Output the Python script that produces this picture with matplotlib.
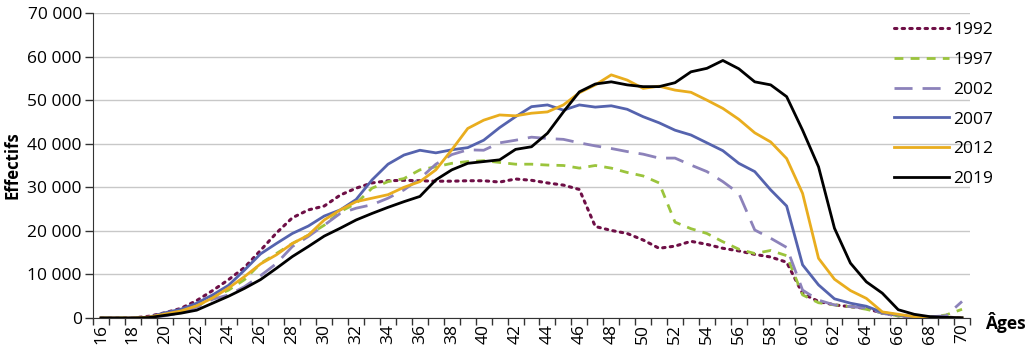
import numpy as np
import matplotlib
matplotlib.use('Agg')
import matplotlib.pyplot as plt
from matplotlib.ticker import FuncFormatter, FixedLocator

plt.rcParams['font.family'] = ['Open Sans', 'DejaVu Sans']
plt.rcParams['font.size'] = 12.5

# effectifs par âge (16 à 70 ans) pour chaque année
ages = list(range(16, 71))

eff_1992 = [0, 0, 0, 400, 1200, 2200, 4000, 6300, 8800, 11600,
            15500, 19500, 23000, 24800, 25700, 28200, 29800, 31000, 31500, 31600,
            31500, 31400, 31400, 31500, 31500, 31200, 31900, 31600, 31000, 30500,
            29500, 21000, 20100, 19400, 17900, 16000, 16500, 17600, 16900, 16000,
            15400, 14600, 14000, 12800, 5600, 3800, 3000, 2600, 2200, 1100,
            500, 300, 200, 200, 0]

eff_1997 = [0, 0, 0, 100, 600, 1300, 2600, 4800, 6400, 8800,
            12500, 14800, 17100, 19000, 21300, 24400, 26300, 29800, 31300, 32000,
            34000, 34700, 35500, 35900, 36100, 35700, 35300, 35300, 35100, 35000,
            34400, 35000, 34400, 33400, 32600, 31000, 22000, 20500, 19400, 17500,
            15800, 14800, 15500, 14300, 5300, 3500, 3000, 2600, 2000, 1100,
            500, 300, 200, 700, 2000]

eff_2002 = [0, 0, 0, 100, 500, 1200, 2500, 4300, 5300, 7200,
            9700, 12500, 16400, 18700, 21300, 24000, 25200, 26000, 27500, 29400,
            32000, 35300, 37500, 38600, 38500, 40200, 40800, 41500, 41200, 41000,
            40200, 39500, 38900, 38200, 37600, 36700, 36700, 35100, 33600, 31300,
            28600, 20200, 18300, 16200, 6400, 4100, 3000, 2600, 2300, 1100,
            400, 300, 300, 500, 3800]

eff_2007 = [0, 0, 0, 200, 1200, 2000, 3400, 5300, 7500, 11000,
            14700, 17100, 19400, 21100, 23400, 24800, 27200, 31700, 35300, 37400,
            38500, 37900, 38600, 39100, 40800, 43700, 46200, 48500, 48900, 47700,
            48900, 48400, 48700, 47900, 46200, 44800, 43100, 42000, 40200, 38400,
            35500, 33600, 29400, 25700, 12200, 7600, 4400, 3400, 2700, 1300,
            700, 300, 100, 100, 0]

eff_2012 = [0, 0, 0, 200, 900, 1600, 2800, 4600, 6900, 9500,
            12400, 14500, 17100, 19000, 22500, 24800, 26700, 27500, 28300, 30000,
            31300, 34000, 38600, 43500, 45400, 46600, 46400, 47000, 47300, 48900,
            51700, 53500, 55800, 54600, 52700, 53200, 52300, 51800, 50000, 48100,
            45600, 42500, 40400, 36600, 28600, 13700, 8900, 6300, 4500, 1400,
            850, 300, 0, 0, 0]

eff_2019 = [0, 0, 0, 100, 600, 1100, 1800, 3400, 5000, 6800,
            8800, 11400, 14100, 16400, 18800, 20600, 22500, 24000, 25400, 26700,
            27900, 31700, 34000, 35500, 35900, 36300, 38700, 39300, 42400, 47300,
            51900, 53700, 54200, 53500, 53100, 53100, 54000, 56500, 57300, 59100,
            57200, 54200, 53500, 50800, 43100, 34700, 20600, 12600, 8300, 5700,
            1900, 850, 300, 150, 50]

series = [
    ('1992', eff_1992, '#6E0F46', (0, (0.8, 1.7)), 2.2),
    ('1997', eff_1997, '#9BC43C', (0, (3.2, 2.6)), 2.0),
    ('2002', eff_2002, '#8C82BA', (0, (6.5, 3.6)), 2.0),
    ('2007', eff_2007, '#5563AE', '-', 2.0),
    ('2012', eff_2012, '#E9AD1E', '-', 2.0),
    ('2019', eff_2019, '#000000', '-', 2.0),
]

fig = plt.figure(figsize=(10.36, 3.51), dpi=100)
ax = fig.add_axes([0.0898, 0.094, 0.9363 - 0.0898, 0.963 - 0.094])

for label, vals, color, ls, lw in series:
    ax.plot(ages, vals, color=color, linestyle=ls, linewidth=lw, label=label,
            dash_capstyle='round' if label == '1992' else 'butt')

ax.set_xlim(15.5, 70.5)
ax.set_ylim(0, 70000)
ax.set_yticks(np.arange(0, 70001, 10000))
ax.yaxis.set_major_formatter(FuncFormatter(lambda v, p: '{:,.0f}'.format(v).replace(',', ' ')))

# labels tous les deux ans, graduations entre les catégories
ax.xaxis.set_major_locator(FixedLocator(list(range(16, 71, 2))))
ax.xaxis.set_minor_locator(FixedLocator(list(np.arange(15.5, 71, 1))))
ax.tick_params(axis='x', which='major', length=0, pad=4, labelrotation=90)
ax.tick_params(axis='x', which='minor', length=5, width=1, color='#333333')
ax.tick_params(axis='y', length=6, width=1, color='#333333', pad=2)

ax.grid(axis='y', color='#C8C8C8', linewidth=1)
ax.set_axisbelow(True)
for s in ['top', 'right']:
    ax.spines[s].set_visible(False)
ax.spines['left'].set_color('#333333')
ax.spines['bottom'].set_color('#333333')

ax.set_ylabel('Effectifs', fontweight='bold', fontsize=12, labelpad=4)
ax.text(1.017, -0.015, 'Âges', transform=ax.transAxes, fontweight='bold',
        fontsize=12.5, ha='left', va='center')

ax.legend(loc='upper left', bbox_to_anchor=(0.897, 1.015), frameon=False,
          handlelength=3.2, handletextpad=0.25, labelspacing=0.78, borderpad=0.3)

plt.savefig('out.png', dpi=100)
